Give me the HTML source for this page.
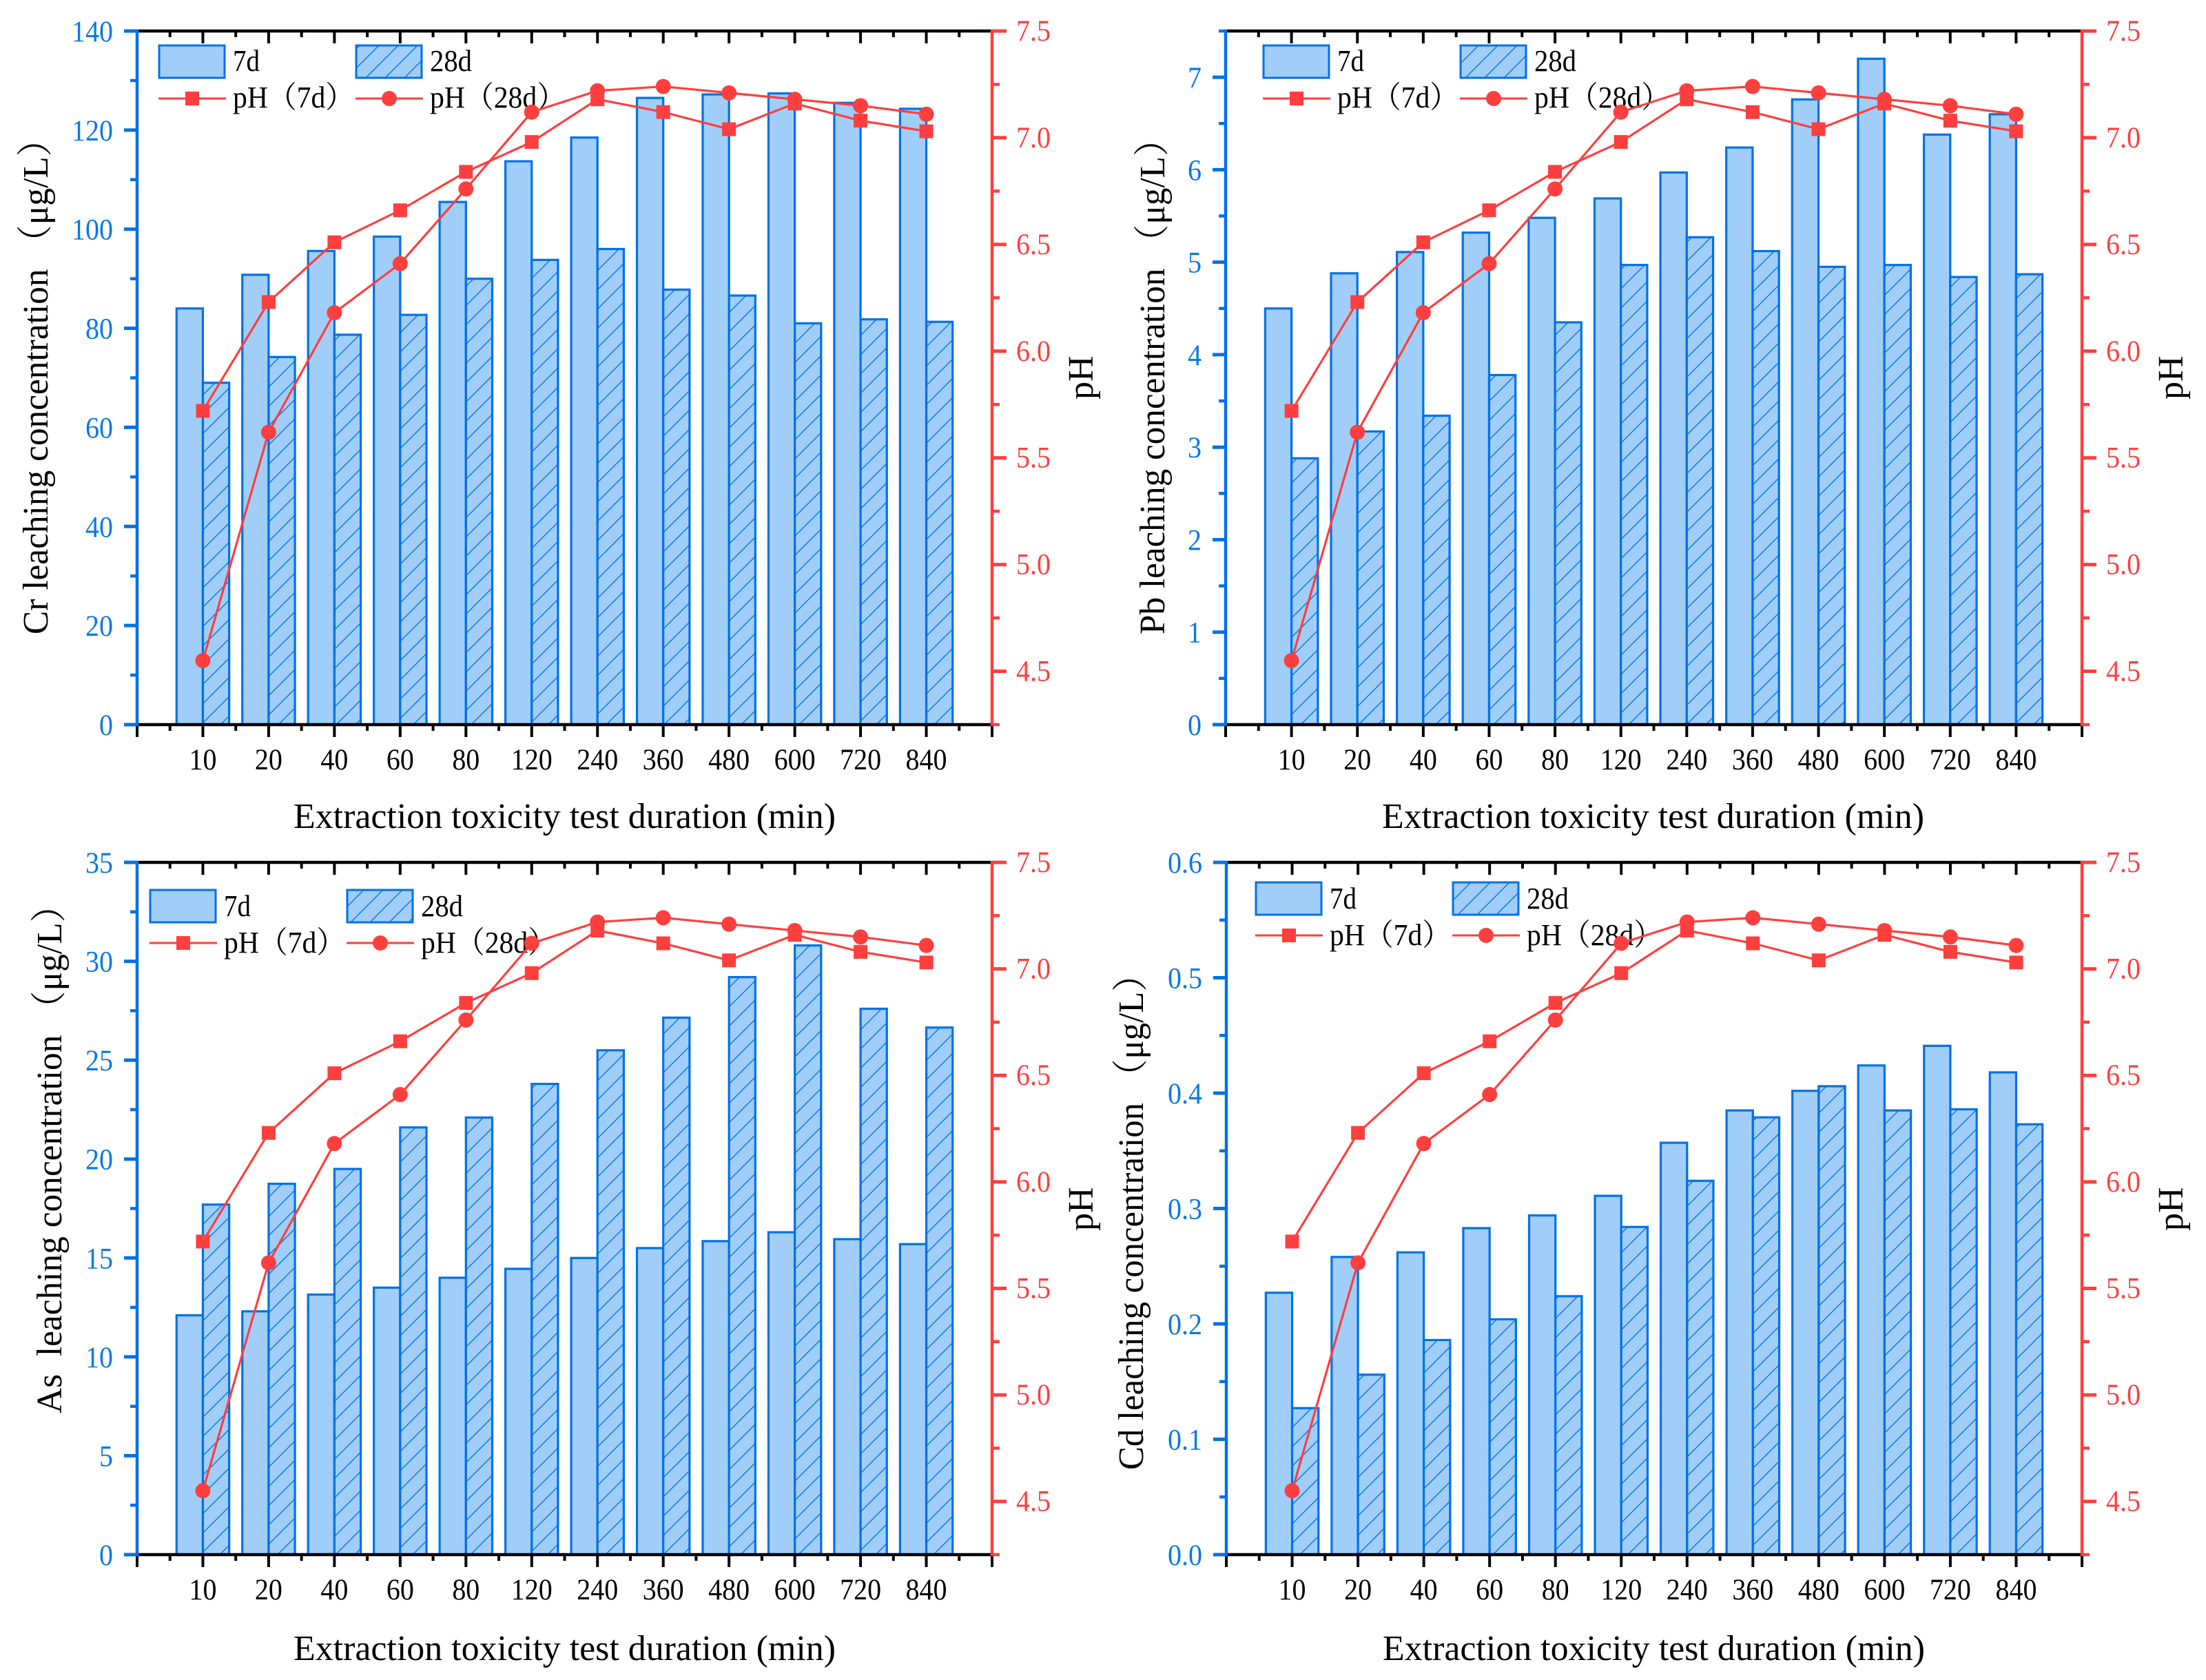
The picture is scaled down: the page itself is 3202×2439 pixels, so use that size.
<!DOCTYPE html>
<html lang="en">
<head>
<meta charset="utf-8">
<title>Leaching concentration and pH over extraction duration</title>
<style>
html,body{margin:0;padding:0;background:#fff;width:3202px;height:2439px;overflow:hidden}
svg{display:block}
text{font-family:"Liberation Serif","Noto Serif CJK SC",serif}
</style>
</head>
<body>
<svg id="figure" xmlns="http://www.w3.org/2000/svg" width="3202" height="2439" viewBox="0 0 3202 2439">
<defs>
<pattern id="hatch" patternUnits="userSpaceOnUse" width="28" height="28">
<rect width="28" height="28" fill="#a0cef8"/>
<path d="M-7 7L7 -7M0 28L28 0M21 35L35 21" stroke="#0a78e6" stroke-width="1.5" fill="none"/>
</pattern>
</defs>
</svg>
<script>
const categories = ['10','20','40','60','80','120','240','360','480','600','720','840'];
const ph7d = [5.72,6.23,6.51,6.66,6.84,6.98,7.18,7.12,7.04,7.16,7.08,7.03];
const ph28d = [4.55,5.62,6.18,6.41,6.76,7.12,7.22,7.24,7.21,7.18,7.15,7.11];
const phTicks = [4.5,5.0,5.5,6.0,6.5,7.0,7.5];
const phTickLabels = ['4.5','5.0','5.5','6.0','6.5','7.0','7.5'];
const crBars7d = [84,90.8,95.6,98.5,105.5,113.7,118.5,126.5,127.2,127.4,125.5,124.3];
const crBars28d = [69,74.2,78.7,82.7,90,93.8,96,87.8,86.6,81,81.8,81.3];
const crTicks = [0,20,40,60,80,100,120,140];
const crTickLabels = ['0','20','40','60','80','100','120','140'];
const pbBars7d = [4.5,4.88,5.11,5.32,5.48,5.69,5.97,6.24,6.76,7.2,6.38,6.6];
const pbBars28d = [2.88,3.17,3.34,3.78,4.35,4.97,5.27,5.12,4.95,4.97,4.84,4.87];
const pbTicks = [0,1,2,3,4,5,6,7];
const pbTickLabels = ['0','1','2','3','4','5','6','7'];
const asBars7d = [12.1,12.3,13.15,13.5,14,14.45,15,15.5,15.85,16.3,15.95,15.7];
const asBars28d = [17.7,18.75,19.5,21.6,22.1,23.8,25.5,27.15,29.2,30.8,27.6,26.65];
const asTicks = [0,5,10,15,20,25,30,35];
const asTickLabels = ['0','5','10','15','20','25','30','35'];
const cdBars7d = [0.227,0.258,0.262,0.283,0.294,0.311,0.357,0.385,0.402,0.424,0.441,0.418];
const cdBars28d = [0.127,0.156,0.186,0.204,0.224,0.284,0.324,0.379,0.406,0.385,0.386,0.373];
const cdTicks = [0,0.1,0.2,0.3,0.4,0.5,0.6];
const cdTickLabels = ['0.0','0.1','0.2','0.3','0.4','0.5','0.6'];

const NS = 'http://www.w3.org/2000/svg';
const BLUE = '#0071e6';
const TICKBLUE = '#0a78e6';
const RED = '#ff3e3e';
const FILL = '#a0cef8';
const svg = document.getElementById('figure');

const panels = [
  {key:'cr',title:'Cr leaching concentration （μg/L）',yMax:140,ticks:crTicks,labels:crTickLabels,v7:crBars7d,v28:crBars28d,
   left:199,right:1440,top:45,bottom:1052,titleX:69,titleY:921,titleLen:745,legX:231,legY:66,rowY:143,legText7Y:103,legRowText:156,xTitleOff:150},
  {key:'pb',title:'Pb leaching concentration （μg/L）',yMax:7.5,ticks:pbTicks,labels:pbTickLabels,v7:pbBars7d,v28:pbBars28d,
   left:1779,right:3022,top:45,bottom:1052,titleX:1690,titleY:921,titleLen:745,legX:1834,legY:66,rowY:143,legText7Y:103,legRowText:156,xTitleOff:150},
  {key:'as',title:'As\u00a0\u00a0leaching concentration （μg/L）',yMax:35,ticks:asTicks,labels:asTickLabels,v7:asBars7d,v28:asBars28d,
   left:199,right:1440,top:1252,bottom:2257,titleX:89,titleY:2052,titleLen:764,legX:218,legY:1292,rowY:1369,legText7Y:1330,legRowText:1383,xTitleOff:153},
  {key:'cd',title:'Cd leaching concentration （μg/L）',yMax:0.6,ticks:cdTicks,labels:cdTickLabels,v7:cdBars7d,v28:cdBars28d,
   left:1780,right:3022,top:1252,bottom:2257,titleX:1659,titleY:2134,titleLen:745,legX:1823,legY:1281,rowY:1358,legText7Y:1319,legRowText:1372,xTitleOff:153}
];

function mk(tag, attrs, parent){
  const el = document.createElementNS(NS, tag);
  for(const k in attrs){ el.setAttribute(k, attrs[k]); }
  parent.appendChild(el);
  return el;
}
function xAt(p, pos){ return p.left + (p.right - p.left) * pos / 13; }
function yAt(p, v){ return p.bottom - (p.bottom - p.top) * v / p.yMax; }
function phAt(p, v){ return p.bottom - (p.bottom - p.top) * (v - 4.25) / 3.25; }
function tickLen(s, size){
  let em = 0;
  for(const c of s){ em += c === '.' ? 0.25 : 0.5; }
  return em * size * 0.93;
}

function drawBars(p, g){
  const unit = (p.right - p.left) / 13;
  const w = unit * 0.4;
  p.v7.forEach((v,i)=>{
    const cx = xAt(p, i + 1);
    const b = mk('rect',{x:cx - w,y:yAt(p,v),width:w,height:p.bottom - yAt(p,v),fill:FILL,stroke:BLUE,'stroke-width':3.2},g);
    
    
  });
  p.v28.forEach((v,i)=>{
    const cx = xAt(p, i + 1);
    const b = mk('rect',{x:cx,y:yAt(p,v),width:w,height:p.bottom - yAt(p,v),fill:'url(#hatch)',stroke:BLUE,'stroke-width':3.2},g);
    
    
  });
}

function drawAxes(p, g){
  const thick = 4.5;
  for(let k = 0; k <= 26; k++){
    const x = xAt(p, k / 2);
    const major = k % 2 === 0;
    const len = major ? 18 : 9;
    const bt = mk('line',{x1:x,x2:x,y1:p.bottom,y2:p.bottom + len,stroke:'#000','stroke-width':4},g);
    
    
    if(k > 0 && k < 26){
      const tt = mk('line',{x1:x,x2:x,y1:p.top,y2:p.top + len,stroke:'#000','stroke-width':4},g);
      
      
    }
  }
  const topAxis = mk('line',{x1:p.left,x2:p.right,y1:p.top,y2:p.top,stroke:'#000','stroke-width':thick},g);
  
  
  const bottomAxis = mk('line',{x1:p.left,x2:p.right,y1:p.bottom,y2:p.bottom,stroke:'#000','stroke-width':thick},g);
  
  

  const leftAxis = mk('line',{x1:p.left,x2:p.left,y1:p.top - 2,y2:p.bottom + 2,stroke:BLUE,'stroke-width':4.5},g);
  
  
  p.ticks.forEach((v,i)=>{
    const y = yAt(p, v);
    const t = mk('line',{x1:p.left - 19,x2:p.left,y1:y,y2:y,stroke:BLUE,'stroke-width':5},g);
    
    
    const lab = mk('text',{x:p.left - 35,y:y + 15,'text-anchor':'end','font-size':43,fill:TICKBLUE,textLength:tickLen(p.labels[i],43),lengthAdjust:'spacingAndGlyphs'},g);
    lab.textContent = p.labels[i];
    
    
    if(i < p.ticks.length - 1){
      const yM = yAt(p, (v + p.ticks[i + 1]) / 2);
      const m = mk('line',{x1:p.left - 10,x2:p.left,y1:yM,y2:yM,stroke:BLUE,'stroke-width':4.5},g);
      
      
    }
  });
  if(p.ticks[p.ticks.length - 1] < p.yMax){
    const last = p.ticks[p.ticks.length - 1];
    const yMid = yAt(p, last + (p.ticks[1] - p.ticks[0]) / 2);
    const m = mk('line',{x1:p.left - 10,x2:p.left,y1:yMid,y2:yMid,stroke:BLUE,'stroke-width':4.5},g);
    
    
  }

  const rightAxis = mk('line',{x1:p.right,x2:p.right,y1:p.top - 2,y2:p.bottom + 2,stroke:RED,'stroke-width':4.5},g);
  
  
  phTicks.forEach((v,i)=>{
    const y = phAt(p, v);
    const t = mk('line',{x1:p.right,x2:p.right + 21,y1:y,y2:y,stroke:RED,'stroke-width':5},g);
    
    
    const lab = mk('text',{x:p.right + 35,y:y + 14,'font-size':43,fill:RED,textLength:tickLen(phTickLabels[i],43),lengthAdjust:'spacingAndGlyphs'},g);
    lab.textContent = phTickLabels[i];
    
    
    const yM = phAt(p, v - 0.25);
    const m = mk('line',{x1:p.right,x2:p.right + 11,y1:yM,y2:yM,stroke:RED,'stroke-width':4.5},g);
    
    
  });

  categories.forEach((c,i)=>{
    const lab = mk('text',{x:xAt(p, i + 1),y:p.bottom + 65,'text-anchor':'middle','font-size':43,fill:'#000',textLength:tickLen(c,43),lengthAdjust:'spacingAndGlyphs'},g);
    lab.textContent = c;
    
    
  });

  const xTitle = mk('text',{x:p.left + 227,y:p.bottom + p.xTitleOff,'font-size':52,fill:'#000',textLength:787,lengthAdjust:'spacingAndGlyphs'},g);
  xTitle.textContent = 'Extraction toxicity test duration (min)';
  
  

  const yTitle = mk('text',{transform:'translate(' + p.titleX + ',' + p.titleY + ') rotate(-90)',x:0,y:0,'font-size':52,fill:'#000',textLength:p.titleLen,lengthAdjust:'spacingAndGlyphs'},g);
  yTitle.textContent = p.title;
  
  

  const rTitle = mk('text',{transform:'translate(' + (p.right + 146) + ',' + (p.top + 535) + ') rotate(-90)',x:0,y:0,'font-size':52,fill:'#000'},g);
  rTitle.textContent = 'pH';
  
  
}

function drawSeries(p, g, values, shape, label){
  const pts = values.map((v,i)=>xAt(p, i + 1) + ',' + phAt(p, v)).join(' ');
  const line = mk('polyline',{points:pts,fill:'none',stroke:RED,'stroke-width':3.2},g);
  
  
  values.forEach((v,i)=>{
    const x = xAt(p, i + 1), y = phAt(p, v);
    let m;
    if(shape === 'square'){
      m = mk('rect',{x:x - 10,y:y - 10,width:20,height:20,fill:RED},g);
    }else{
      m = mk('circle',{cx:x,cy:y,r:11,fill:RED},g);
    }
    
    
  });
}

function drawLegend(p, g){
  const x1 = p.legX, x2 = p.legX + 286;
  const s1 = mk('rect',{x:x1,y:p.legY,width:95,height:47,fill:FILL,stroke:BLUE,'stroke-width':3},g);
  
  
  const t1 = mk('text',{x:x1 + 107,y:p.legText7Y,'font-size':44,fill:'#000',textLength:39,lengthAdjust:'spacingAndGlyphs'},g);
  t1.textContent = '7d';
  
  
  const s2 = mk('rect',{x:x2,y:p.legY,width:95,height:47,fill:'url(#hatch)',stroke:BLUE,'stroke-width':3},g);
  
  
  const t2 = mk('text',{x:x2 + 107,y:p.legText7Y,'font-size':44,fill:'#000',textLength:61,lengthAdjust:'spacingAndGlyphs'},g);
  t2.textContent = '28d';
  
  

  const l1 = mk('line',{x1:x1 - 1,x2:x1 + 97,y1:p.rowY,y2:p.rowY,stroke:RED,'stroke-width':3},g);
  
  
  const m1 = mk('rect',{x:x1 + 38,y:p.rowY - 10,width:20,height:20,fill:RED},g);
  
  
  const t3 = mk('text',{x:x1 + 107,y:p.legRowText,'font-size':44,fill:'#000',textLength:176,lengthAdjust:'spacingAndGlyphs'},g);
  t3.textContent = 'pH（7d）';
  
  

  const l2 = mk('line',{x1:x2 - 1,x2:x2 + 97,y1:p.rowY,y2:p.rowY,stroke:RED,'stroke-width':3},g);
  
  
  const m2 = mk('circle',{cx:x2 + 48,cy:p.rowY,r:11,fill:RED},g);
  
  
  const t4 = mk('text',{x:x2 + 107,y:p.legRowText,'font-size':44,fill:'#000',textLength:197,lengthAdjust:'spacingAndGlyphs'},g);
  t4.textContent = 'pH（28d）';
  
  
}

panels.forEach(p=>{
  const g = mk('g',{},svg);
  
  
  drawBars(p, g);
  drawAxes(p, g);
  drawLegend(p, g);
  drawSeries(p, g, ph7d, 'square', 'ph-7d');
  drawSeries(p, g, ph28d, 'circle', 'ph-28d');
});
</script>
</body>
</html>
